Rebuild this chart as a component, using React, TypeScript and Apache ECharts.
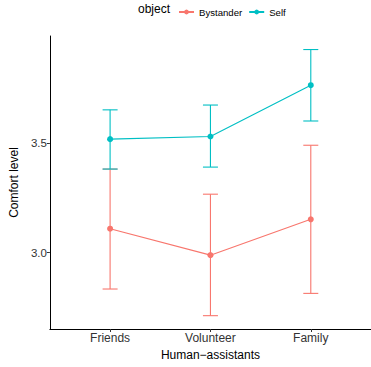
import React, { useEffect, useRef } from "react";
import * as echarts from "echarts";

const categories = ["Friends", "Volunteer", "Family"];
const groups = ["Bystander", "Self"];
const colors = ["#F8766D", "#00BFC4"];
const bystanderMean = [3.11, 2.989, 3.153];
const bystanderLow = [2.834, 2.712, 2.814];
const bystanderHigh = [3.383, 3.268, 3.492];
const selfMean = [3.52, 3.532, 3.767];
const selfLow = [3.383, 3.392, 3.603];
const selfHigh = [3.654, 3.676, 3.93];
const yTicks = [3.0, 3.5];

const FONT = "Liberation Sans, Arial, Helvetica, sans-serif";

export default function App() {
  const ref = useRef<HTMLDivElement>(null);
  useEffect(() => {
    if (!ref.current) return;
    const chart = echarts.init(ref.current, null, { renderer: "svg" });
    const means = [bystanderMean, selfMean];
    const lows = [bystanderLow, selfLow];
    const highs = [bystanderHigh, selfHigh];

    const errSeries = groups.map((g, gi) => ({
      type: "custom",
      name: g + "_err",
      data: categories.map((_, i) => [i + 1, lows[gi][i], highs[gi][i]]),
      encode: { x: 0, y: [1, 2] },
      z: 2,
      renderItem: (params: any, api: any) => {
        const x = api.value(0);
        const lo = api.coord([x, api.value(1)]);
        const hi = api.coord([x, api.value(2)]);
        const hw = 7.5;
        const style = { stroke: colors[gi], lineWidth: 1.1, fill: null };
        return {
          type: "group",
          children: [
            { type: "line", shape: { x1: lo[0], y1: lo[1], x2: hi[0], y2: hi[1] }, style },
            { type: "line", shape: { x1: lo[0] - hw, y1: lo[1], x2: lo[0] + hw, y2: lo[1] }, style },
            { type: "line", shape: { x1: hi[0] - hw, y1: hi[1], x2: hi[0] + hw, y2: hi[1] }, style },
          ],
        };
      },
    }));

    const lineSeries = groups.map((g, gi) => ({
      type: "line",
      name: g,
      data: categories.map((_, i) => [i + 1, means[gi][i]]),
      symbol: "circle",
      symbolSize: 6,
      showSymbol: true,
      z: 3,
      itemStyle: { color: colors[gi] },
      lineStyle: { color: colors[gi], width: 1.1 },
    }));

    chart.setOption({
      animation: false,
      title: {
        text: "object",
        left: 138,
        top: 3,
        padding: 0,
        textStyle: { fontFamily: FONT, fontSize: 12, fontWeight: "normal", color: "#000" },
      },
      legend: {
        data: groups,
        left: 178,
        top: 7,
        padding: 0,
        itemWidth: 15,
        itemHeight: 6,
        itemGap: 6,
        textStyle: { fontFamily: FONT, fontSize: 9.6, color: "#000" },
      },
      grid: { left: 47, top: 36, right: -3, bottom: 38, containLabel: false },
      xAxis: {
        type: "value",
        min: 0.4,
        max: 3.6,
        name: "Human\u2212assistants",
        nameLocation: "middle",
        nameGap: 20,
        nameTextStyle: { fontFamily: FONT, fontSize: 12, color: "#000" },
        splitLine: { show: false },
        axisLine: { show: true, lineStyle: { color: "#000", width: 1 } },
        axisTick: { show: true, length: 3, customValues: [1, 2, 3], lineStyle: { color: "#333" } },
        axisLabel: {
          customValues: [1, 2, 3],
          formatter: (v: number) => categories[Math.round(v) - 1] ?? "",
          fontFamily: FONT,
          fontSize: 12,
          color: "#333",
          margin: 3,
        },
      },
      yAxis: {
        type: "value",
        min: 2.651,
        max: 3.992,
        name: "Comfort level",
        nameLocation: "middle",
        nameGap: 28,
        nameTextStyle: { fontFamily: FONT, fontSize: 12, color: "#000" },
        splitLine: { show: false },
        axisLine: { show: true, lineStyle: { color: "#000", width: 1 } },
        axisTick: { show: true, length: 3, customValues: yTicks, lineStyle: { color: "#333" } },
        axisLabel: {
          customValues: yTicks,
          formatter: (v: number) => v.toFixed(1),
          fontFamily: FONT,
          fontSize: 11.5,
          color: "#333",
          margin: 3,
        },
      },
      series: [...errSeries, ...lineSeries],
    });
    return () => chart.dispose();
  }, []);
  return (
    <div
      ref={ref}
      style={{ position: "fixed", left: 0, top: 0, width: 371, height: 367, background: "#fff" }}
    />
  );
}
